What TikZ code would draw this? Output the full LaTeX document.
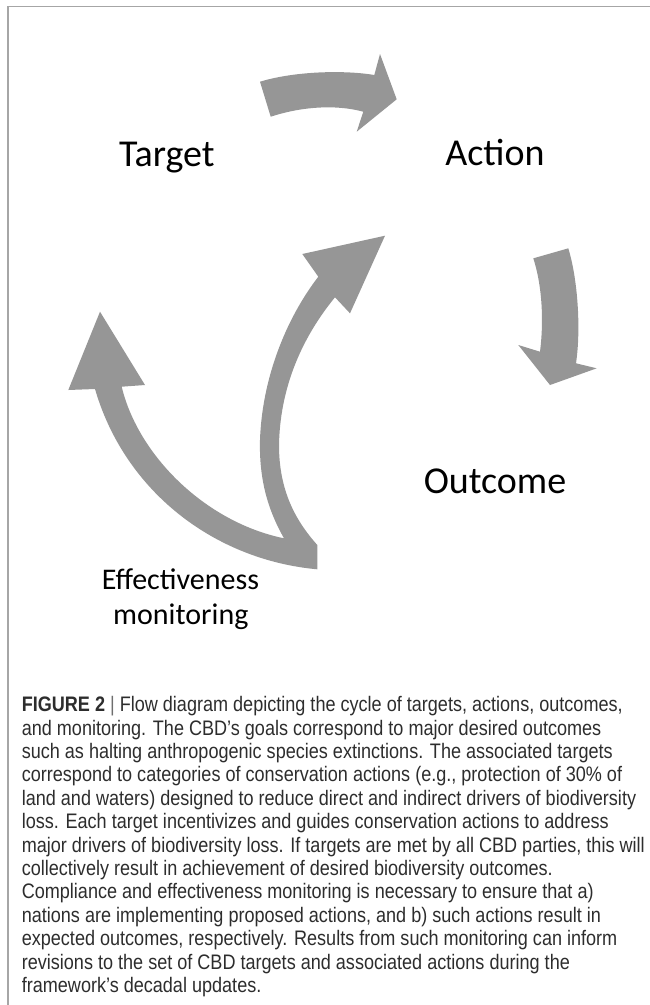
\documentclass[tikz,border=0pt]{standalone}
\usepackage{fontspec}
\setmainfont{Carlito}
\newfontfamily\capfont[FakeStretch=0.86]{Liberation Sans}
\definecolor{arrowgray}{RGB}{150,150,150}
\definecolor{framegray}{RGB}{166,166,166}
\definecolor{captext}{RGB}{45,45,45}
\definecolor{sepgray}{RGB}{110,110,110}
\tikzset{
  arrowshape/.style={fill=arrowgray, draw=none},
  cyclelabel/.style={font=\fontsize{38}{46}\selectfont, inner sep=0pt, anchor=base},
  monlabel/.style={font=\fontsize{30}{35}\selectfont, inner sep=0pt, anchor=base},
  framestyle/.style={draw=framegray, line width=1.2pt}
}
\begin{document}
\begin{tikzpicture}[x=1pt,y=-1pt]
\useasboundingbox (0,0) rectangle (650,1005);
% frame
\coordinate (fr1) at (8,1005);
\coordinate (fr2) at (8,6.5);
\coordinate (fr3) at (650,6.5);
\draw[framestyle] (fr1) -- (fr2) -- (fr3);

% labels
\node[cyclelabel] (target) at (166.8,166.7) {Target};
\node[cyclelabel] (action) at (495,165.7) {Action};
\node[cyclelabel] (outcome) at (495,493.3) {Outcome};
\node[monlabel] (eff1) at (180.4,589) {Effectiveness};
\node[monlabel] (eff2) at (180.8,624) {monitoring};

% arrow Target -> Action
\fill[arrowshape] (260,81.7) .. controls (295,71) and (345,70) .. (374.3,75)
  -- (380,54) -- (396.7,99.3) -- (356.7,131.7) -- (363.3,111.7)
  .. controls (335,104) and (300,107) .. (270.7,116.7) -- cycle;

% arrow Action -> Outcome
\fill[arrowshape] (533.3,258.3) -- (568.3,248.3)
  .. controls (578,280) and (581,330) .. (576,363.3)
  -- (596.7,368.3) -- (550,385) -- (518.3,345) -- (540,351.7)
  .. controls (544,320) and (542,285) .. (533.3,258.3) -- cycle;

% double arrow from monitoring to Target and Action
\fill[arrowshape] (100,311.7) -- (145,385) -- (121.7,386.7)
  .. controls (138,455) and (205,522) .. (284,538.3)
  .. controls (268,510) and (259,480) .. (260,440)
  .. controls (262,380) and (285,320) .. (318.3,276.7)
  -- (302.3,254) -- (385,235.7) -- (350,313.3) -- (335,297.3)
  .. controls (300,340) and (280,390) .. (279,445)
  .. controls (279,490) and (295,520) .. (317.3,545)
  -- (317.3,569.3)
  .. controls (215,560) and (125,492) .. (95,389)
  -- (68.3,390) -- cycle;

% caption (base anchor = baseline of last line)
\node[anchor=base west, align=left, inner sep=0pt, text=captext,
  font=\capfont\fontsize{21}{23.4}\selectfont] (caption) at (21.6,992.5) {%
{\bfseries FIGURE 2} {\color{sepgray}|} Flow diagram depicting the cycle of targets, actions, outcomes,\\
and monitoring. The CBD’s goals correspond to major desired outcomes\\
such as halting anthropogenic species extinctions. The associated targets\\
correspond to categories of conservation actions (e.g., protection of 30\% of\\
land and waters) designed to reduce direct and indirect drivers of biodiversity\\
loss. Each target incentivizes and guides conservation actions to address\\
major drivers of biodiversity loss. If targets are met by all CBD parties, this will\\
collectively result in achievement of desired biodiversity outcomes.\\
Compliance and effectiveness monitoring is necessary to ensure that a)\\
nations are implementing proposed actions, and b) such actions result in\\
expected outcomes, respectively. Results from such monitoring can inform\\
revisions to the set of CBD targets and associated actions during the\\
framework’s decadal updates.};
\end{tikzpicture}
\end{document}
